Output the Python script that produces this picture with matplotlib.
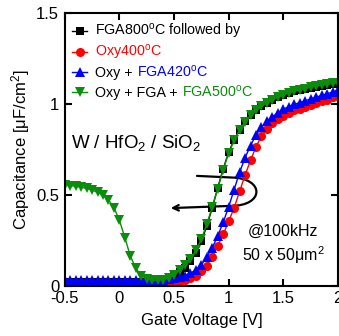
import matplotlib
matplotlib.use('Agg')
from matplotlib import pyplot as plt
from matplotlib.path import Path
from matplotlib.patches import FancyArrowPatch

plt.rcParams['font.family'] = ['Liberation Sans', 'DejaVu Sans']
plt.rcParams['mathtext.fontset'] = 'custom'
plt.rcParams['mathtext.rm'] = 'Liberation Sans'
plt.rcParams['mathtext.it'] = 'Liberation Sans:italic'
plt.rcParams['axes.unicode_minus'] = False

# gate voltage sweep [V]
gate_v = [-0.5, -0.45, -0.4, -0.35, -0.3, -0.25, -0.2, -0.15, -0.1, -0.05,
          0.0, 0.05, 0.1, 0.15, 0.2, 0.25, 0.3, 0.35, 0.4, 0.45,
          0.5, 0.55, 0.6, 0.65, 0.7, 0.75, 0.8, 0.85, 0.9, 0.95,
          1.0, 1.05, 1.1, 1.15, 1.2, 1.25, 1.3, 1.35, 1.4, 1.45,
          1.5, 1.55, 1.6, 1.65, 1.7, 1.75, 1.8, 1.85, 1.9, 1.95, 2.0]

# capacitance [uF/cm2]
c_fga800 = [0.02, 0.02, 0.02, 0.02, 0.02, 0.02, 0.02, 0.02, 0.02, 0.02,
            0.02, 0.02, 0.02, 0.021, 0.022, 0.024, 0.027, 0.031, 0.037, 0.046,
            0.058, 0.076, 0.1, 0.135, 0.18, 0.245, 0.33, 0.43, 0.54, 0.645,
            0.735, 0.805, 0.86, 0.905, 0.94, 0.968, 0.99, 1.008, 1.024, 1.038,
            1.05, 1.06, 1.069, 1.077, 1.084, 1.09, 1.096, 1.101, 1.106, 1.11, 1.114]
c_oxy400 = [0.015, 0.015, 0.015, 0.015, 0.015, 0.015, 0.015, 0.015, 0.015, 0.015,
            0.015, 0.015, 0.015, 0.015, 0.015, 0.015, 0.015, 0.015, 0.015, 0.017,
            0.02, 0.025, 0.032, 0.042, 0.057, 0.08, 0.112, 0.16, 0.22, 0.285,
            0.355, 0.43, 0.52, 0.61, 0.69, 0.765, 0.825, 0.865, 0.895, 0.918,
            0.937, 0.95, 0.965, 0.975, 0.985, 0.995, 1.005, 1.015, 1.025, 1.037, 1.048]
c_fga420 = [0.03, 0.03, 0.03, 0.03, 0.03, 0.03, 0.03, 0.03, 0.03, 0.03,
            0.03, 0.03, 0.03, 0.03, 0.03, 0.03, 0.03, 0.031, 0.033, 0.036,
            0.041, 0.048, 0.057, 0.07, 0.088, 0.115, 0.16, 0.21, 0.275, 0.35,
            0.435, 0.53, 0.625, 0.705, 0.772, 0.83, 0.872, 0.905, 0.93, 0.952,
            0.972, 0.986, 0.998, 1.008, 1.018, 1.028, 1.038, 1.047, 1.056, 1.066, 1.075]
c_fga500 = [0.555, 0.552, 0.548, 0.543, 0.536, 0.527, 0.515, 0.498, 0.473, 0.43,
            0.362, 0.265, 0.165, 0.097, 0.057, 0.038, 0.031, 0.03, 0.034, 0.045,
            0.06, 0.085, 0.115, 0.15, 0.195, 0.258, 0.34, 0.435, 0.535, 0.64,
            0.73, 0.8, 0.858, 0.903, 0.938, 0.966, 0.988, 1.007, 1.023, 1.037,
            1.05, 1.061, 1.07, 1.078, 1.085, 1.092, 1.098, 1.103, 1.108, 1.113, 1.117]

green = '#0c8c0c'
series = [
    (c_fga800, 'black', 's', 5.5),
    (c_oxy400, 'red', 'o', 6.5),
    (c_fga420, 'blue', '^', 6.5),
    (c_fga500, green, 'v', 6.5),
]

fig = plt.figure(figsize=(3.39, 3.36), dpi=100)
ax = fig.add_axes([0.191, 0.149, 0.806, 0.812])

for c, col, mk, ms in series:
    ax.plot(gate_v, c, color=col, marker=mk, markersize=ms, linewidth=1.0,
            markeredgewidth=0)

ax.set_xlim(-0.5, 2.0)
ax.set_ylim(0, 1.5)
ax.set_xticks([-0.5, 0, 0.5, 1, 1.5, 2])
ax.set_xticklabels(['-0.5', '0', '0.5', '1', '1.5', '2'])
ax.set_yticks([0, 0.5, 1, 1.5])
ax.set_yticklabels(['0', '0.5', '1', '1.5'])
ax.tick_params(direction='in', length=5, width=1.5, labelsize=12,
               top=True, right=True, pad=4)
for sp in ax.spines.values():
    sp.set_linewidth(1.5)
ax.set_xlabel('Gate Voltage [V]', fontsize=12, labelpad=5)
ax.set_ylabel('Capacitance [μF/cm$^2$]', fontsize=12, labelpad=3)

# curved arrow
verts = [(0.71, 0.605), (1.03, 0.596), (1.33, 0.592), (1.33, 0.44),
         (1.02, 0.44), (0.47, 0.428)]
codes = [Path.MOVETO, Path.LINETO, Path.CURVE4, Path.CURVE4, Path.CURVE4,
         Path.LINETO]
arrow = FancyArrowPatch(path=Path(verts, codes), arrowstyle='->',
                        mutation_scale=10, linewidth=1.6, color='black')
ax.add_patch(arrow)

ax.text(-0.44, 0.758, 'W / HfO$_2$ / SiO$_2$', fontsize=13.5, va='baseline')
ax.text(1.5, 0.3, '@100kHz', fontsize=11.5, ha='center', va='center')
ax.text(1.5, 0.17, '50 x 50μm$^2$', fontsize=11.5, ha='center', va='center')

# legend drawn by hand, with mixed text colours
rows = [0.934, 0.857, 0.784, 0.711]
handles = [('black', 's', 5.5), ('red', 'o', 6.5), ('blue', '^', 6.5),
           (green, 'v', 6.5)]
for (col, mk, ms), y in zip(handles, rows):
    ax.plot([0.027, 0.082], [y, y], color=col, linewidth=1.0,
            transform=ax.transAxes)
    ax.plot([0.054], [y], color=col, marker=mk, markersize=ms,
            markeredgewidth=0, transform=ax.transAxes)

labels = [
    [('FGA800$^\\mathrm{o}$C followed by', 'black')],
    [('Oxy400$^\\mathrm{o}$C', 'red')],
    [('Oxy +', 'black'), ('FGA420$^\\mathrm{o}$C', 'blue')],
    [('Oxy + FGA +', 'black'), ('FGA500$^\\mathrm{o}$C', green)],
]
fig.canvas.draw()
rend = fig.canvas.get_renderer()
for parts, y in zip(labels, rows):
    x = 0.111
    for txt, col in parts:
        t = ax.text(x, y - 0.018, txt, color=col, fontsize=10.3,
                    transform=ax.transAxes, va='baseline')
        bb = t.get_window_extent(rend)
        x = ax.transAxes.inverted().transform((bb.x1 + 4, bb.y0))[0]

fig.savefig('out.png', dpi=100)
